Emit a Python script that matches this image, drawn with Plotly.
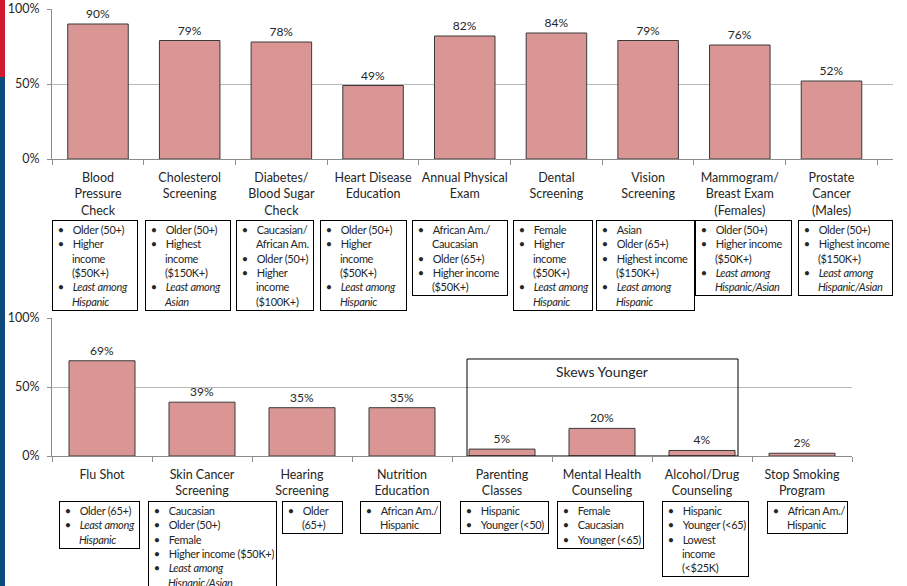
import plotly.graph_objects as go

# ---------------- data ----------------
top_categories = ["Blood Pressure Check", "Cholesterol Screening", "Diabetes/Blood Sugar Check",
                  "Heart Disease Education", "Annual Physical Exam", "Dental Screening",
                  "Vision Screening", "Mammogram/Breast Exam (Females)", "Prostate Cancer (Males)"]
top_ticklabels = ["Blood<br>Pressure<br>Check", "Cholesterol<br>Screening", "Diabetes/<br>Blood Sugar<br>Check",
                  "Heart Disease<br>Education", "Annual Physical<br>Exam", "Dental<br>Screening",
                  "Vision<br>Screening", "Mammogram/<br>Breast Exam<br>(Females)", "Prostate<br>Cancer<br>(Males)"]
top_values = [90, 79, 78, 49, 82, 84, 79, 76, 52]

bottom_categories = ["Flu Shot", "Skin Cancer Screening", "Hearing Screening", "Nutrition Education",
                     "Parenting Classes", "Mental Health Counseling", "Alcohol/Drug Counseling",
                     "Stop Smoking Program"]
bottom_ticklabels = ["Flu Shot", "Skin Cancer<br>Screening", "Hearing<br>Screening", "Nutrition<br>Education",
                     "Parenting<br>Classes", "Mental Health<br>Counseling", "Alcohol/Drug<br>Counseling",
                     "Stop Smoking<br>Program"]
bottom_values = [69, 39, 35, 35, 5, 20, 4, 2]

y_tickvals = [0, 50, 100]
y_ticklabels = ["0%", "50%", "100%"]

# notes: list of bullets; each bullet is list of lines; "_" prefix = italic
top_notes = [
    [["Older (50+)"], ["Higher", "income", "($50K+)"], ["_Least among", "_Hispanic"]],
    [["Older (50+)"], ["Highest", "income", "($150K+)"], ["_Least among", "_Asian"]],
    [["Caucasian/", "African Am."], ["Older (50+)"], ["Higher", "income", "($100K+)"]],
    [["Older (50+)"], ["Higher", "income", "($50K+)"], ["_Least among", "_Hispanic"]],
    [["African Am./", "Caucasian"], ["Older (65+)"], ["Higher income", "($50K+)"]],
    [["Female"], ["Higher", "income", "($50K+)"], ["_Least among", "_Hispanic"]],
    [["Asian"], ["Older (65+)"], ["Highest income", "($150K+)"], ["_Least among", "_Hispanic"]],
    [["Older (50+)"], ["Higher income", "($50K+)"], ["_Least among", "_Hispanic/Asian"]],
    [["Older (50+)"], ["Highest income", "($150K+)"], ["_Least among", "_Hispanic/Asian"]],
]
bottom_notes = [
    [["Older (65+)"], ["_Least among", "_Hispanic"]],
    [["Caucasian"], ["Older (50+)"], ["Female"], ["Higher income ($50K+)"], ["_Least among", "_Hispanic/Asian"]],
    [["Older", "(65+)"]],
    [["African Am./", "Hispanic"]],
    [["Hispanic"], ["Younger (<50)"]],
    [["Female"], ["Caucasian"], ["Younger (<65)"]],
    [["Hispanic"], ["Younger (<65)"], ["Lowest", "income", "(<$25K)"]],
    [["African Am./", "Hispanic"]],
]
group_label = "Skews Younger"
group_members = ["Parenting Classes", "Mental Health Counseling", "Alcohol/Drug Counseling"]

# ---------------- style / layout ----------------
W, H = 907, 586
BAR_COLOR = "#d99694"
BAR_LINE = "#3a3a3a"
GRID = "#b8b8b8"
AXIS = "#8c8c8c"
TXT = "#262626"
FONT = "Lato"
NOTE_SIZE = 11

top_box_widths = [86, 86, 78, 87, 96, 80, 99, 97, 95]
top_box_shift = [-3, -2, -6, -10, -5, -3, -3, 4, 14]
bottom_box_widths = [81, 129, 61, 81, 89, 87, 87, 81]
bottom_box_shift = [-3, 10, 10, -2, 2, -2, 3, 5]
BORDERPAD = 2


def px_y(p):
    return 1 - p / H


def px_x(p):
    return p / W


def esc(s):
    return s.replace("&", "&amp;").replace("<", "&lt;").replace(">", "&gt;")


def note_text(bullets):
    lines = []
    for b in bullets:
        for j, ln in enumerate(b):
            it = ln.startswith("_")
            t = esc(ln[1:] if it else ln)
            if it:
                t = "<i>" + t + "</i>"
            t = '<span style="letter-spacing:-0.3px">' + t + "</span>"
            prefix = "\u00a0•\u00a0\u00a0\u00a0" if j == 0 else "\u00a0\u00a0\u00a0\u00a0\u00a0\u00a0"
            lines.append(prefix + t)
    return "<br>".join(lines)


fig = go.Figure()
fig.add_trace(go.Bar(x=top_categories, y=top_values, xaxis="x", yaxis="y",
                     marker=dict(color=BAR_COLOR, line=dict(color=BAR_LINE, width=1)),
                     text=[f"{v}%" for v in top_values], textposition="outside",
                     textfont=dict(size=12, color=TXT, family=FONT), cliponaxis=False,
                     hoverinfo="skip"))
fig.add_trace(go.Bar(x=bottom_categories, y=bottom_values, xaxis="x2", yaxis="y2",
                     marker=dict(color=BAR_COLOR, line=dict(color=BAR_LINE, width=1)),
                     text=[f"{v}%" for v in bottom_values], textposition="outside",
                     textfont=dict(size=12, color=TXT, family=FONT), cliponaxis=False,
                     hoverinfo="skip"))

xcommon = dict(type="category", showline=True, linecolor=AXIS, linewidth=1,
               ticks="outside", tickson="boundaries", ticklen=5, tickcolor=AXIS,
               tickfont=dict(size=12.5, color=TXT, family=FONT), showgrid=False,
               tickangle=0, automargin=False, fixedrange=True, ticklabelstandoff=7)
ycommon = dict(range=[0, 100], tickvals=y_tickvals, ticktext=y_ticklabels,
               showline=True, linecolor=AXIS, linewidth=1, ticks="outside", ticklen=4,
               tickcolor=AXIS, showgrid=True, gridcolor=GRID, gridwidth=1, automargin=False,
               tickfont=dict(size=12.5, color=TXT, family=FONT), zeroline=False, fixedrange=True,
               ticklabelstandoff=5)

fig.update_layout(
    width=W, height=H, autosize=False,
    margin=dict(l=0, r=0, t=0, b=0, autoexpand=False),
    paper_bgcolor="white", plot_bgcolor="white",
    showlegend=False, bargap=0.34,
    font=dict(family=FONT, color=TXT),
    xaxis=dict(domain=[px_x(52), px_x(893)], anchor="y",
               tickvals=top_categories, ticktext=top_ticklabels, **xcommon),
    yaxis=dict(domain=[px_y(159), px_y(9)], anchor="x", **ycommon),
    xaxis2=dict(domain=[px_x(52), px_x(852)], anchor="y2",
                tickvals=bottom_categories, ticktext=bottom_ticklabels, **xcommon),
    yaxis2=dict(domain=[px_y(456), px_y(318)], anchor="x2", **ycommon),
)

annotations = []
for i, (cat, notes) in enumerate(zip(top_categories, top_notes)):
    annotations.append(dict(x=cat, xref="x", y=px_y(220), yref="paper", xanchor="center", yanchor="top",
                            text=note_text(notes), align="left", showarrow=False,
                            width=top_box_widths[i] - 2 * BORDERPAD - 2, borderpad=BORDERPAD,
                            bordercolor="#000000", borderwidth=1, xshift=top_box_shift[i], bgcolor="white",
                            font=dict(size=NOTE_SIZE, color=TXT, family=FONT)))
for i, (cat, notes) in enumerate(zip(bottom_categories, bottom_notes)):
    annotations.append(dict(x=cat, xref="x2", y=px_y(501), yref="paper", xanchor="center", yanchor="top",
                            text=note_text(notes), align="left", showarrow=False,
                            width=bottom_box_widths[i] - 2 * BORDERPAD - 2, borderpad=BORDERPAD,
                            bordercolor="#000000", borderwidth=1, xshift=bottom_box_shift[i], bgcolor="white",
                            font=dict(size=NOTE_SIZE, color=TXT, family=FONT)))

# "Skews Younger" group box
gi = [bottom_categories.index(c) for c in group_members]
annotations.append(dict(x=group_members[len(group_members) // 2], xref="x2", y=61.5, yref="y2",
                        text=group_label, showarrow=False, font=dict(size=14, color=TXT, family=FONT)))
fig.update_layout(annotations=annotations)

shapes = [
    dict(type="rect", xref="x2", yref="y2", x0=min(gi) - 0.35, x1=max(gi) + 0.36, y0=0, y1=70.3,
         line=dict(color="#000000", width=1), fillcolor="rgba(0,0,0,0)", layer="above"),
    dict(type="rect", xref="paper", yref="paper", x0=0, x1=px_x(5), y0=px_y(77), y1=1,
         line=dict(width=0), fillcolor="#cf1a30"),
    dict(type="rect", xref="paper", yref="paper", x0=0, x1=px_x(5), y0=0, y1=px_y(77),
         line=dict(width=0), fillcolor="#0d4a7d"),
]
fig.update_layout(shapes=shapes)

fig.write_html("out.html", config={"displayModeBar": False},
               post_script="document.body.style.margin='0';document.body.style.overflow='hidden';")
